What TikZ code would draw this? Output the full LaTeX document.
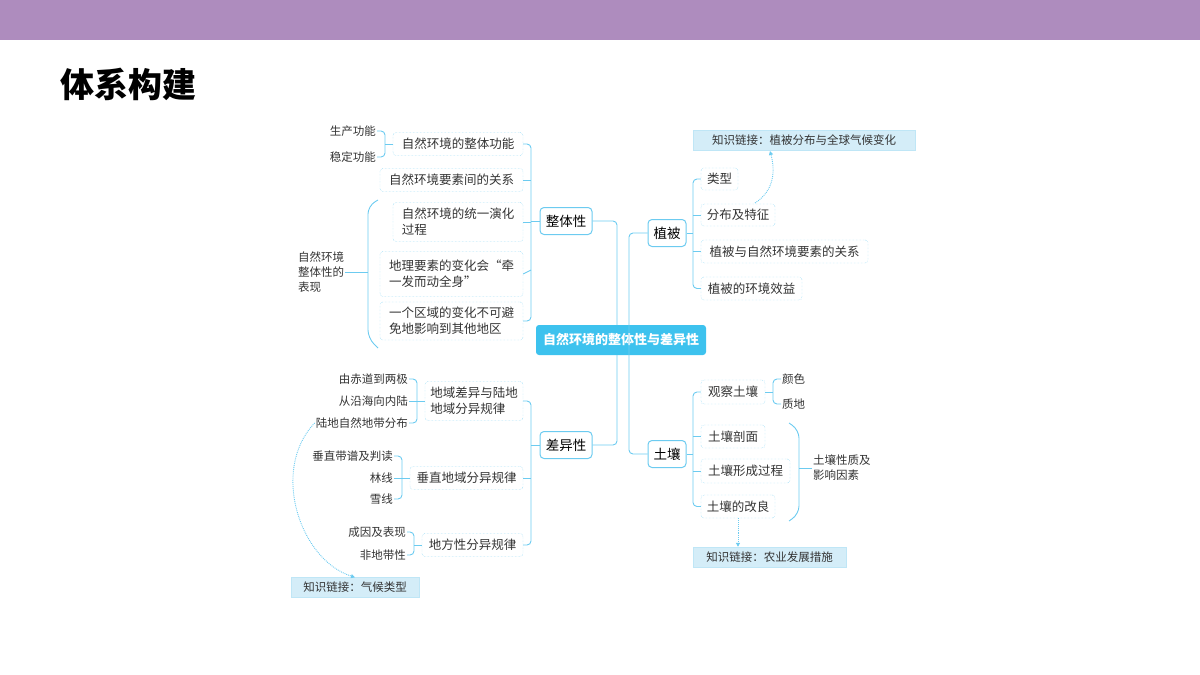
\documentclass[tikz,border=0pt]{standalone}
\usepackage{fontspec}
\setmainfont{Noto Sans CJK SC}
\usetikzlibrary{arrows.meta}
\definecolor{ln}{HTML}{6CCBF0}
\definecolor{bar}{HTML}{AE8CBE}
\definecolor{ctr}{HTML}{3DC2EE}
\definecolor{kl}{HTML}{D4EDF8}
\definecolor{tx}{HTML}{333333}
\tikzset{
 x=1pt,y=-1pt,
 dbox/.style={draw=ln,densely dotted,rounded corners=3pt,inner sep=0pt,align=left,font=\fontsize{12.5}{16}\selectfont,text=tx},
 mbox/.style={draw=ln,line width=1pt,rounded corners=4pt,inner sep=0pt,font=\fontsize{13.5}{16}\selectfont,text=black,fill=white},
 sm/.style={font=\fontsize{11.5}{15}\selectfont,text=tx,inner sep=1pt,align=left},
 klbox/.style={fill=kl,draw=kl!80!ln,inner sep=0pt,font=\fontsize{11.5}{14}\selectfont,text=tx},
 cn/.style={draw=ln,line width=0.9pt},
 lk/.style={draw=ln,densely dotted,line width=0.9pt,-{Triangle[length=4pt,width=4pt]}},
}
\newcommand{\bx}[6]{\node[#1,minimum width=#4,minimum height=#5] (#2) at (#3) {#6};}
\begin{document}
\begin{tikzpicture}
\useasboundingbox (0,0) rectangle (1200,675);
\fill[bar] (0,0) rectangle (1200,40);
\node[anchor=west,font=\fontsize{34}{36}\selectfont\bfseries,inner sep=0] (title) at (60,84) {体系构建};
% center
\node[fill=ctr,rounded corners=3pt,minimum width=170,minimum height=30,inner sep=0,text=white,font=\fontsize{13}{15}\selectfont\bfseries] (c) at (621,340) {自然环境的整体性与差异性};
% level 1
\bx{mbox}{zt}{566,221}{52}{27}{整体性}
\bx{mbox}{cy}{566,445}{52}{27}{差异性}
\bx{mbox}{zb}{667,233}{38}{27}{植被}
\bx{mbox}{tr}{667,454}{38}{27}{土壤}
\draw[cn,rounded corners=4pt] (zt.east) -- (617,221) -- (617,325);
\draw[cn,rounded corners=4pt] (cy.east) -- (617,445) -- (617,355);
\draw[cn,rounded corners=4pt] (zb.west) -- (629,233) -- (629,454) -- (tr.west);
% 整体性 children
\bx{dbox}{a1}{458,144}{130}{23}{自然环境的整体功能}
\bx{dbox}{a2}{451.5,180}{143}{23}{自然环境要素间的关系}
\bx{dbox}{a3}{458,222}{130}{39}{自然环境的统一演化\\过程}
\bx{dbox}{a4}{451.5,274}{143}{45}{地理要素的变化会“牵\\一发而动全身”}
\bx{dbox}{a5}{451.5,321}{143}{38}{一个区域的变化不可避\\免地影响到其他地区}
\draw[cn,rounded corners=4pt] (a1.east) -- (531,144) -- (531,321) -- (a5.east);
\draw[cn] (a2.east) -- (531,180);
\draw[cn] (a3.east) -- (531,222);
\draw[cn] (a4.east) -- (531,270);
\draw[cn] (zt.west) -- (531,221);
\node[sm,anchor=east] (s1) at (377,131) {生产功能};
\node[sm,anchor=east] (s2) at (377,157) {稳定功能};
\draw[cn,rounded corners=4pt] (s1.east) -- (385,131) -- (385,157) -- (s2.east);
\draw[cn] (385,144) -- (a1.west);
\node[sm,anchor=west] (bx) at (297,272) {自然环境\\整体性的\\表现};
\draw[cn,rounded corners=8pt] (378,200) -- (368,206) -- (368,338) -- (378,348);
\draw[cn] (bx.east) -- (368,272);
% 差异性 children
\bx{dbox}{b1}{474,401}{98}{39}{地域差异与陆地\\地域分异规律}
\bx{dbox}{b2}{466.5,478}{113}{23}{垂直地域分异规律}
\bx{dbox}{b3}{472.5,545}{101}{23}{地方性分异规律}
\draw[cn,rounded corners=4pt] (b1.east) -- (531,401) -- (531,545) -- (b3.east);
\draw[cn] (b2.east) -- (531,478);
\draw[cn] (cy.west) -- (531,445);
\node[sm,anchor=east] (d1) at (409,379) {由赤道到两极};
\node[sm,anchor=east] (d2) at (409,401) {从沿海向内陆};
\node[sm,anchor=east] (d3) at (409,423) {陆地自然地带分布};
\draw[cn,rounded corners=4pt] (d1.east) -- (417,379) -- (417,423) -- (d3.east);
\draw[cn] (d2.east) -- (b1.west);
\node[sm,anchor=east] (e1) at (394,456) {垂直带谱及判读};
\node[sm,anchor=east] (e2) at (394,478) {林线};
\node[sm,anchor=east] (e3) at (394,499) {雪线};
\draw[cn,rounded corners=4pt] (e1.east) -- (402,456) -- (402,499) -- (e3.east);
\draw[cn] (e2.east) -- (b2.west);
\node[sm,anchor=east] (f1) at (407,532) {成因及表现};
\node[sm,anchor=east] (f2) at (407,555) {非地带性};
\draw[cn,rounded corners=4pt] (f1.east) -- (414,532) -- (414,555) -- (f2.east);
\draw[cn] (414,545) -- (b3.west);
\bx{klbox}{k1}{355,587.5}{128}{20}{知识链接：气候类型}
\draw[lk] (d3.west) .. controls (270,470) and (300,560) .. (k1.north);
% 植被 children
\bx{dbox}{p1}{719.5,179}{37}{22}{类型}
\bx{dbox}{p2}{738,215}{74}{22}{分布及特征}
\bx{dbox}{p3}{784.5,251.5}{167}{23}{植被与自然环境要素的关系}
\bx{dbox}{p4}{751.5,288.5}{101}{23}{植被的环境效益}
\draw[cn,rounded corners=4pt] (p1.west) -- (693,179) -- (693,288.5) -- (p4.west);
\draw[cn] (p2.west) -- (693,215);
\draw[cn] (p3.west) -- (693,251.5);
\draw[cn] (zb.east) -- (693,233);
\bx{klbox}{k2}{804,140}{222}{20}{知识链接：植被分布与全球气候变化}
\draw[lk] (755,203) .. controls (775,190) and (775,170) .. (770,151);
% 土壤 children
\bx{dbox}{q1}{733,392}{64}{24}{观察土壤}
\bx{dbox}{q2}{733,436.5}{64}{23}{土壤剖面}
\bx{dbox}{q3}{745.5,471}{89}{24}{土壤形成过程}
\bx{dbox}{q4}{738,506.5}{74}{23}{土壤的改良}
\draw[cn,rounded corners=4pt] (q1.west) -- (693,392) -- (693,506.5) -- (q4.west);
\draw[cn] (q2.west) -- (693,436.5);
\draw[cn] (q3.west) -- (693,471);
\draw[cn] (tr.east) -- (693,454);
\node[sm,anchor=west] (g1) at (781,379) {颜色};
\node[sm,anchor=west] (g2) at (781,404) {质地};
\draw[cn,rounded corners=4pt] (g1.west) -- (773,379) -- (773,404) -- (g2.west);
\draw[cn] (q1.east) -- (773,392);
\draw[cn,rounded corners=8pt] (789,423) -- (799,430) -- (799,514) -- (789,521);
\node[sm,anchor=west] (h) at (812,468) {土壤性质及\\影响因素};
\draw[cn] (799,468) -- (h.west);
\bx{klbox}{k3}{769.5,557}{153}{20}{知识链接：农业发展措施}
\draw[lk] (q4.south) -- (k3.north -| q4.south);
\end{tikzpicture}
\end{document}
